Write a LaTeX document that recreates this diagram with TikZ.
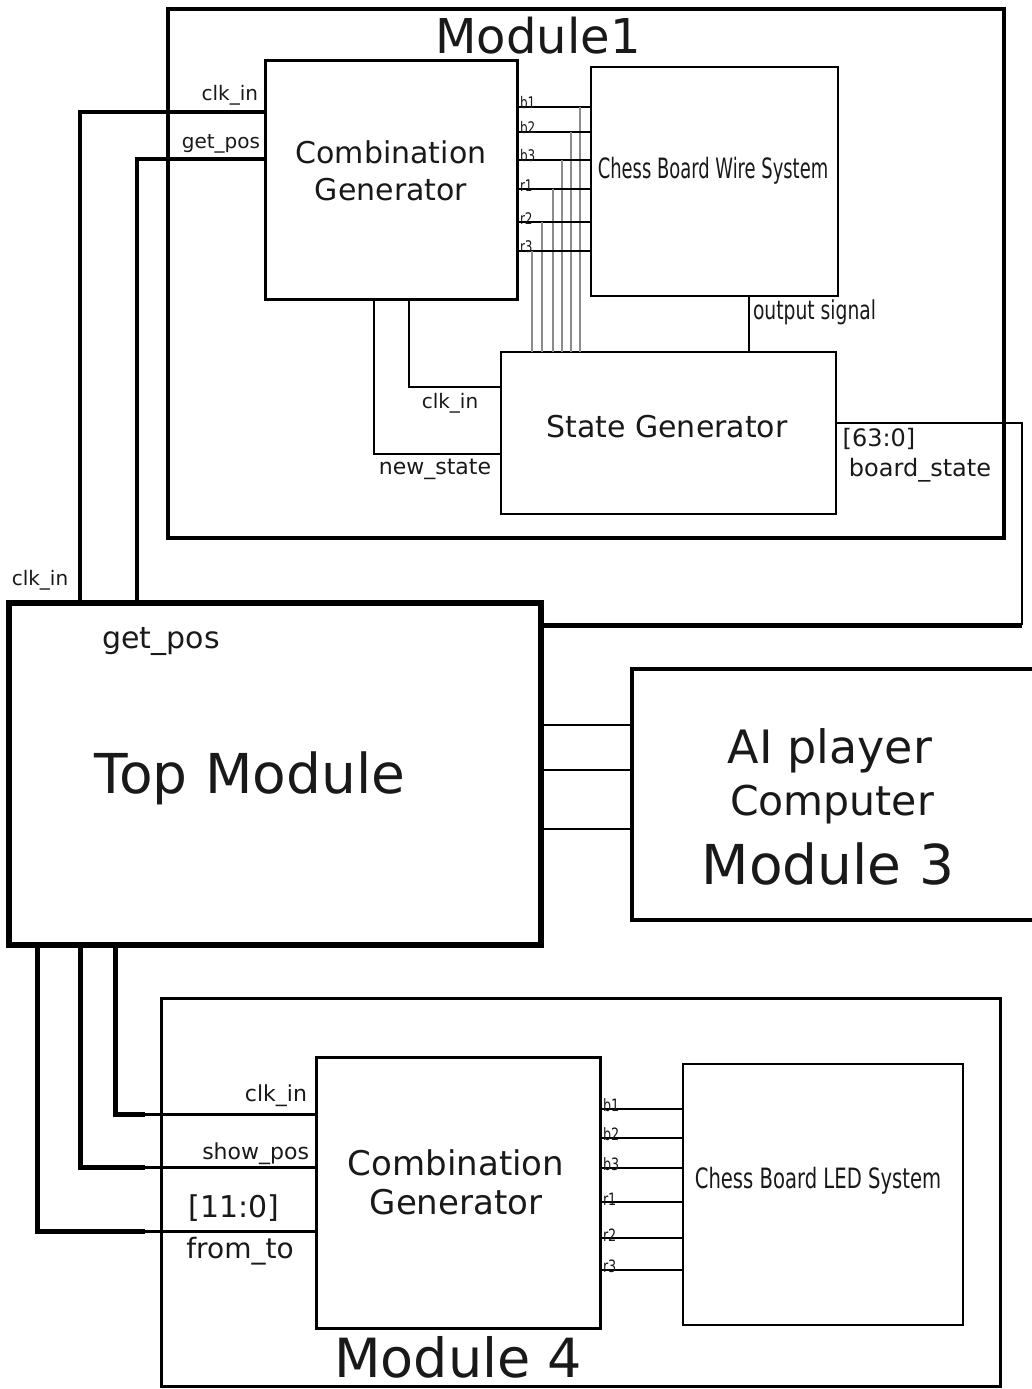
\documentclass[tikz,border=0pt]{standalone}
\usepackage{fontspec}
\setmainfont{DejaVu Sans}
\usepackage{graphicx}
\newcommand{\fs}[1]{\fontsize{#1}{#1}\selectfont}
\newcommand{\cond}[2]{\scalebox{#1}[1]{#2}}
\begin{document}
\begin{tikzpicture}[x=1pt,y=-1pt,
  box/.style={draw=black, line width=#1, inner sep=0pt, outer sep=0pt, anchor=north west},
  txt/.style={inner sep=0pt, outer sep=0pt, text=black!90},
  wire/.style={line width=#1, line join=miter},
  gwire/.style={line width=2pt, draw=black!45},
  sig/.style={txt, font=\fs{16}},
]
\useasboundingbox (0,0) rectangle (1032,1389);
% ---------- Module 1 ----------
\node[box=4pt, minimum width=836pt, minimum height=529pt] (m1) at (168,9) {};
\node[txt, font=\fs{48}] (m1t) at (538,36) {Module1};
\node[box=3pt, minimum width=252pt, minimum height=238pt] (cg1) at (265,61) {};
\node[txt, font=\fs{30}, align=center] (cg1t) at (391,171) {Combination\\[7pt]Generator};
\node[box=2pt, minimum width=247pt, minimum height=229pt] (cbw) at (591,67) {};
\node[txt, font=\fs{28}] (cbwt) at (713,171) {\cond{0.64}{Chess Board Wire System}};
\node[box=2.5pt, minimum width=335pt, minimum height=162pt] (sg) at (501,352) {};
\node[txt, font=\fs{30}] (sgt) at (667,427) {State Generator};
% b/r wires between combination generator and wire system
\foreach \yy/\lab/\gx in {107/b1/580,132/b2/571,160/b3/562,189/r1/553,222/r2/542,251/r3/532}{
  \coordinate (tw\lab) at (cg1.east |- 0,\yy);
  \draw[wire=2pt] (tw\lab) -- (cbw.west |- tw\lab);
  \node[sig, anchor=south west] (tl\lab) at ([xshift=3pt,yshift=-2pt]tw\lab) {\cond{0.75}{\lab}};
  \coordinate (gs\lab) at (\gx,\yy);
  \draw[gwire] (gs\lab) -- (sg.north -| gs\lab);
}
% output signal
\coordinate (os) at (749,296);
\draw[wire=2pt] (os) -- (sg.north -| os);
\node[txt, font=\fs{26}, anchor=west] (ost) at (753,312) {\cond{0.72}{output signal}};
% clk_in / new_state internal
\coordinate (ck1) at (409,299);
\coordinate (ns1) at (374,299);
\draw[wire=2pt] (ck1) |- (sg.west |- 0,387);
\draw[wire=2pt] (ns1) |- (sg.west |- 0,454);
\node[txt, font=\fs{20}] (ck1t) at (450,403) {clk\_in};
\node[txt, font=\fs{22}] (ns1t) at (435,469) {new\_state};
% ---------- Top module ----------
\node[box=6pt, minimum width=532pt, minimum height=342pt] (top) at (9,603) {};
\node[txt, font=\fs{55}] (topt) at (250,778) {Top Module};
\node[txt, font=\fs{30}] (gpt) at (161,641) {get\_pos};
\node[txt, font=\fs{20}] (ckt) at (40,580) {clk\_in};
% board_state
\coordinate (bsr) at (1022,423);
\coordinate (bsb) at (1022,625);
\draw[wire=2.5pt] (sg.east |- bsr) -- (bsr) -- (bsb);
\draw[wire=5pt] (bsb) -- (top.east |- bsb);
\node[txt, font=\fs{24}] (bst1) at (879,439) {[63:0]};
\node[txt, font=\fs{24}] (bst2) at (920,470) {board\_state};
% clk_in / get_pos to module 1
\draw[wire=3.5pt] (cg1.west |- 0,112) -| (top.north -| 80,0);
\draw[wire=3.5pt] (cg1.west |- 0,159) -| (top.north -| 137,0);
\node[txt, font=\fs{20}, anchor=south east] (cgck) at (258,105) {clk\_in};
\node[txt, font=\fs{20}, anchor=south east] (cggp) at (260,153) {get\_pos};
% ---------- Module 3 ----------
\node[box=4pt, minimum width=410pt, minimum height=251pt] (m3) at (632,669) {};
\node[txt, font=\fs{46}] (m3a) at (830,751) {AI player};
\node[txt, font=\fs{41}] (m3b) at (832,805) {Computer};
\node[txt, font=\fs{55}] (m3c) at (828,864) {Module 3};
\foreach \yy in {725,770,829}{
  \draw[wire=2pt] (top.east |- 0,\yy) -- (m3.west |- 0,\yy);
}
% ---------- Module 4 ----------
\node[box=3pt, minimum width=839pt, minimum height=388pt] (m4) at (161,998) {};
\node[txt, font=\fs{54}] (m4t) at (458,1357) {Module 4};
\node[box=3pt, minimum width=284pt, minimum height=271pt] (cg2) at (316,1057) {};
\node[txt, font=\fs{34}, align=center] (cg2t) at (456,1182) {Combination\\[5pt]Generator};
\node[box=2pt, minimum width=280pt, minimum height=261pt] (led) at (683,1064) {};
\node[txt, font=\fs{28}] (ledt) at (818,1181) {\cond{0.70}{Chess Board LED System}};
\foreach \yy/\lab in {1109/b1,1138/b2,1168/b3,1202/r1,1238/r2,1270/r3}{
  \coordinate (bw\lab) at (cg2.east |- 0,\yy);
  \draw[wire=2pt] (bw\lab) -- (led.west |- bw\lab);
  \node[sig, font=\fs{17}, anchor=south west] (bl\lab) at ([xshift=3pt,yshift=-3pt]bw\lab) {\cond{0.75}{\lab}};
}
% wires from top module to combination generator 2
\foreach \xx/\yy/\nm in {115/1114/a,80/1167/b,37/1231/c}{
  \coordinate (bk\nm) at (145,\yy);
  \draw[wire=5pt] (top.south -| \xx,0) |- (bk\nm);
  \draw[wire=3pt] (bk\nm) -- (cg2.west |- bk\nm);
}
\node[txt, font=\fs{22}, anchor=south east] (b4ck) at (307,1107) {clk\_in};
\node[txt, font=\fs{22}, anchor=south east] (b4sp) at (309,1165) {show\_pos};
\node[txt, font=\fs{30}] (b4bus) at (234,1208) {[11:0]};
\node[txt, font=\fs{28}] (b4ft) at (240,1251) {from\_to};
\end{tikzpicture}
\end{document}
